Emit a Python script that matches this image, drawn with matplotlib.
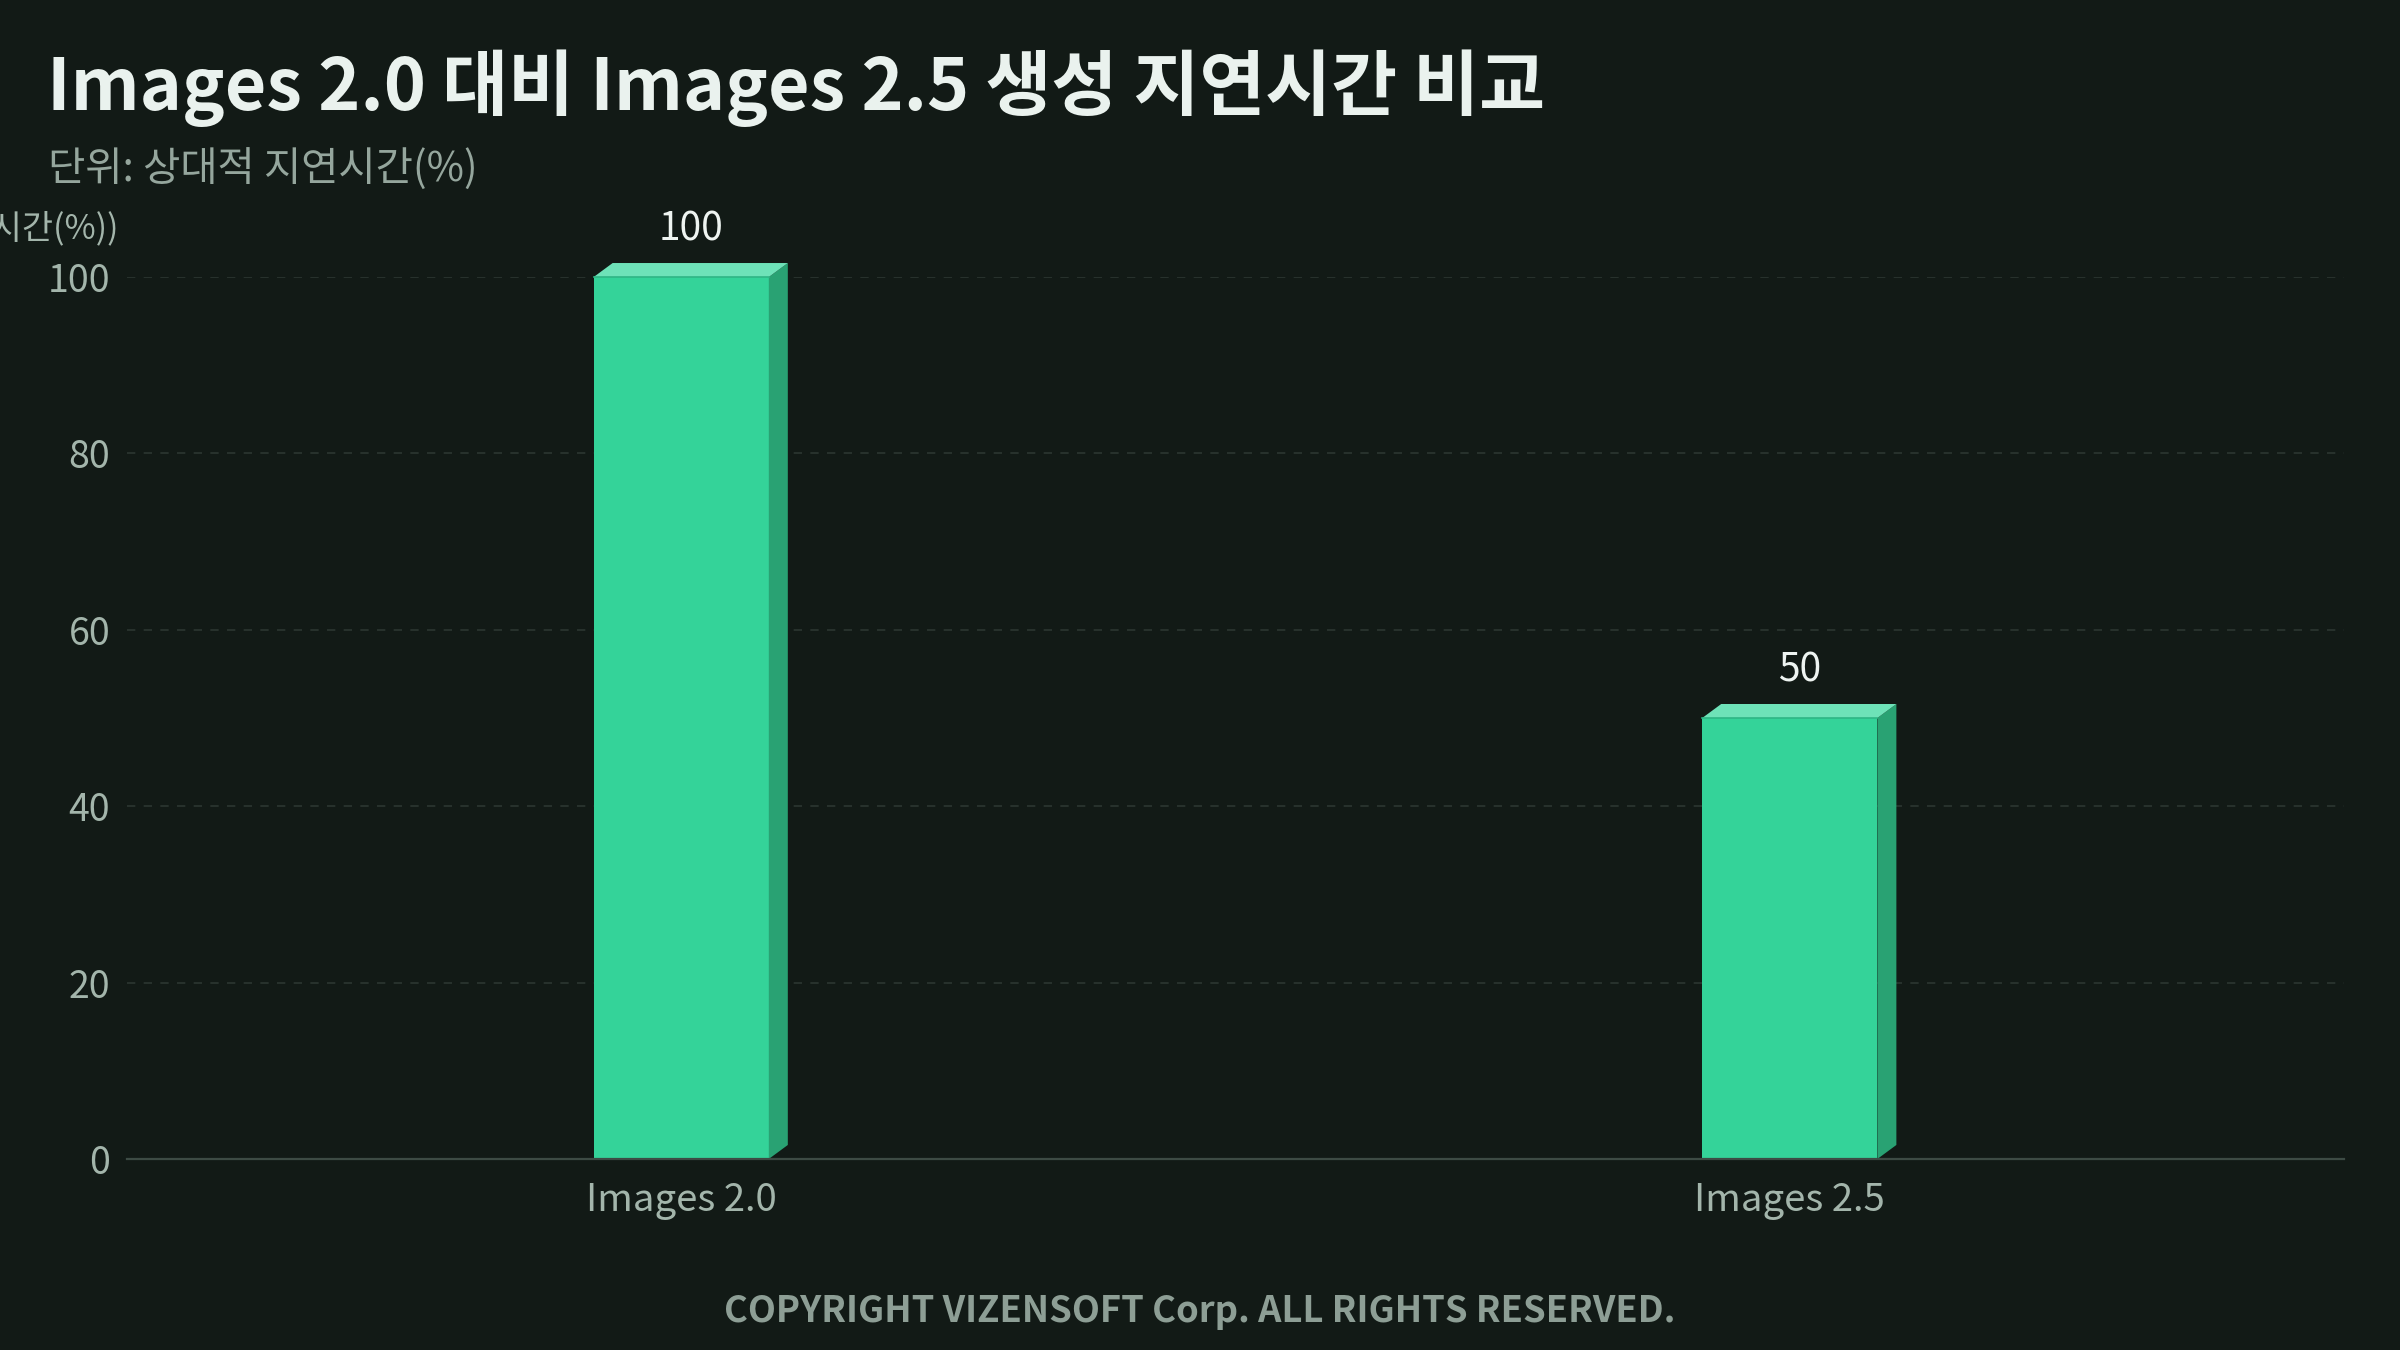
import matplotlib
matplotlib.use("Agg")
import matplotlib.pyplot as plt
from matplotlib.patches import Polygon, Rectangle

plt.rcParams['font.family'] = ['Noto Sans CJK KR', 'DejaVu Sans']

categories = ["Images 2.0", "Images 2.5"]
values = [100, 50]
yticks = [0, 20, 40, 60, 80, 100]

title = "Images 2.0 대비 Images 2.5 생성 지연시간 비교"
subtitle = "단위: 상대적 지연시간(%)"
ylabel = "(상대적 지연시간(%))"
footer = "COPYRIGHT VIZENSOFT Corp. ALL RIGHTS RESERVED."

BG = "#121a16"
FRONT = "#34d399"
TOP = "#6ee2b8"
SIDE = "#29a273"
GRID = "#27312c"
AXIS = "#3d4b44"
TICK = "#a3b5ab"
SUB = "#95a69d"
TITLE = "#eaf2ee"

W, H, DPI = 12, 6.75, 200
fig = plt.figure(figsize=(W, H), dpi=DPI, facecolor=BG)
ax = fig.add_axes([0.0529, 0.1415, 0.9238, 0.6533], facecolor=BG)

xlim = (-0.5, 1.5)
ylim = (0, 100)
ax.set_xlim(*xlim)
ax.set_ylim(*ylim)

# pixel offsets for 3D look
ax_w_px = 0.9238 * W * DPI
ax_h_px = 0.6533 * H * DPI
dx = 19 / ax_w_px * (xlim[1] - xlim[0])
dy = 14 / ax_h_px * (ylim[1] - ylim[0])

bw = 0.158
for i, (c, v) in enumerate(zip(categories, values)):
    x0 = i - bw / 2
    x1 = i + bw / 2
    ax.add_patch(Rectangle((x0, 0), bw, v, facecolor=FRONT, edgecolor='none', zorder=3))
    ax.add_patch(Polygon([(x1, 0), (x1 + dx, dy), (x1 + dx, v + dy), (x1, v)],
                         closed=True, facecolor=SIDE, edgecolor='none', zorder=3, clip_on=False))
    ax.add_patch(Polygon([(x0, v), (x0 + dx, v + dy), (x1 + dx, v + dy), (x1, v)],
                         closed=True, facecolor=TOP, edgecolor='none', zorder=3, clip_on=False))
    ax.plot([x0, x1], [v, v], color="#2fb585", lw=0.6, zorder=4, clip_on=False)
    ax.annotate(f"{v}", xy=(i + dx / 2, v + dy), xytext=(0, 4.8), textcoords='offset points',
                ha='center', va='bottom', fontsize=14, color="#eef4f1", zorder=5,
                annotation_clip=False)

ax.set_xticks(range(len(categories)))
ax.set_xticklabels(categories)
ax.set_yticks(yticks)
ax.set_yticklabels([str(t) for t in yticks])
ax.tick_params(axis='both', length=0, labelsize=13.5, colors=TICK)
ax.tick_params(axis='x', labelsize=13.8)
ax.tick_params(axis='y', pad=6)
ax.tick_params(axis='x', pad=8)

for t in yticks[1:]:
    ax.axhline(t, color=GRID, lw=0.75, dashes=(4, 4), zorder=1)

for s in ['top', 'right', 'left']:
    ax.spines[s].set_visible(False)
ax.spines['bottom'].set_color(AXIS)
ax.spines['bottom'].set_linewidth(0.8)
ax.spines['bottom'].set_zorder(4)

# y label at top-left (horizontal)
fig.text(119 / (W * DPI), 1 - 238 / (H * DPI), ylabel, ha='right', va='baseline',
         fontsize=12.2, color=TICK)

fig.text(47 / (W * DPI), 1 - 110 / (H * DPI), title, ha='left', va='baseline',
         fontsize=25.8, fontweight='bold', color=TITLE)
fig.text(48 / (W * DPI), 1 - 182 / (H * DPI), subtitle, ha='left', va='baseline',
         fontsize=14.6, color=SUB)
fig.text(0.5, 1 - 1322 / (H * DPI), footer, ha='center', va='baseline',
         fontsize=13.1, fontweight='bold', color="#8d9e95")

fig.savefig("out.png", dpi=DPI, facecolor=BG)
